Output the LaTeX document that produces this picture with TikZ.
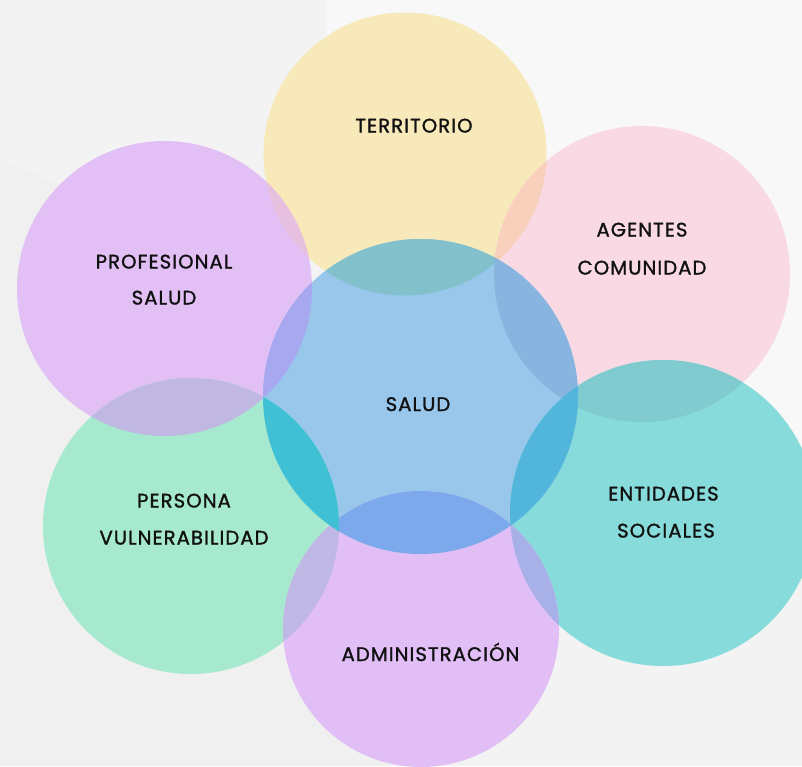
\documentclass[tikz,border=0pt]{standalone}
\usepackage{fontspec}
\setmainfont{Poppins}[LetterSpace=5.5,FakeBold=1.4]
\definecolor{bgc}{HTML}{F3F3F3}
\definecolor{bglight}{HTML}{F8F8F8}
\definecolor{bgdark}{HTML}{F0F0F0}
\definecolor{cyel}{HTML}{F7E9BA}
\definecolor{cpink}{HTML}{F9DAE4}
\definecolor{cprof}{HTML}{E2C0F6}
\definecolor{cblue}{HTML}{98C7EB}
\definecolor{cgreen}{HTML}{A6E9CE}
\definecolor{cteal}{HTML}{88DBDB}
\definecolor{cadm}{HTML}{E1BFF6}
\definecolor{oProfYel}{HTML}{E8C0DF}
\definecolor{oYelBlue}{HTML}{82C0CC}
\definecolor{oYelPink}{HTML}{F8D0BC}
\definecolor{oPinkBlue}{HTML}{88B4E0}
\definecolor{oPinkTeal}{HTML}{80CBD0}
\definecolor{oTealBlue}{HTML}{52B6DC}
\definecolor{oTealAdm}{HTML}{A8B0E8}
\definecolor{oAdmBlue}{HTML}{7CA8EC}
\definecolor{oAdmGreen}{HTML}{C0B8E4}
\definecolor{oGreenBlue}{HTML}{40C0D4}
\definecolor{oGreenProf}{HTML}{C0B8E2}
\definecolor{oProfBlue}{HTML}{A8A8F0}
\definecolor{txt}{HTML}{111111}
\def\cYel{(405,154) circle (141.5pt)}
\def\cPink{(642,274) circle (148pt)}
\def\cProf{(164.5,288.5) circle (147.5pt)}
\def\cBlue{(420.5,396.5) circle (157.5pt)}
\def\cGreen{(191,526) circle (148pt)}
\def\cTeal{(663,513) circle (153pt)}
\def\cAdm{(421,629) circle (138pt)}
\newcommand{\lensfill}[3]{\begin{scope}\clip #1; \fill[#3] #2;\end{scope}}
\tikzset{lbl/.style={anchor=base, text=txt, font=\fontsize{19.6}{22}\selectfont, inner sep=0pt}}
\begin{document}
\begin{tikzpicture}[x=1pt,y=-1pt]
\useasboundingbox (0,0) rectangle (802,766);
\fill[bgc] (0,0) rectangle (802,766);
\fill[bglight] (327,0) rectangle (802,450);
\fill[bgdark] (0,160) -- (270,270) -- (300,400) -- (390,766) -- (0,766) -- cycle;
% circles
\fill[cyel] \cYel;
\fill[cpink] \cPink;
\fill[cprof] \cProf;
\fill[cblue] \cBlue;
\fill[cgreen] \cGreen;
\fill[cteal] \cTeal;
\fill[cadm] \cAdm;
% overlaps
\lensfill{\cProf}{\cYel}{oProfYel}
\lensfill{\cYel}{\cPink}{oYelPink}
\lensfill{\cPink}{\cTeal}{oPinkTeal}
\lensfill{\cTeal}{\cAdm}{oTealAdm}
\lensfill{\cAdm}{\cGreen}{oAdmGreen}
\lensfill{\cGreen}{\cProf}{oGreenProf}
\lensfill{\cBlue}{\cYel}{oYelBlue}
\lensfill{\cBlue}{\cPink}{oPinkBlue}
\lensfill{\cBlue}{\cTeal}{oTealBlue}
\lensfill{\cBlue}{\cAdm}{oAdmBlue}
\lensfill{\cBlue}{\cGreen}{oGreenBlue}
\lensfill{\cBlue}{\cProf}{oProfBlue}
% labels
\node[lbl] (ter) at (414,132.5) {TERRITORIO};
\node[lbl] (prof1) at (164,268.5) {PROFESIONAL};
\node[lbl] (prof2) at (164,304.5) {SALUD};
\node[lbl] (ag1) at (642,236.5) {AGENTES};
\node[lbl] (ag2) at (642,274.5) {COMUNIDAD};
\node[lbl] (sal) at (418,411) {SALUD};
\node[lbl] (per1) at (184,507.5) {PERSONA};
\node[lbl] (per2) at (184,544.5) {VULNERABILIDAD};
\node[lbl] (ent1) at (663.5,500.5) {ENTIDADES};
\node[lbl] (ent2) at (666,537.5) {SOCIALES};
\node[lbl] (adm) at (430.5,661) {ADMINISTRACIÓN};
\end{tikzpicture}
\end{document}
